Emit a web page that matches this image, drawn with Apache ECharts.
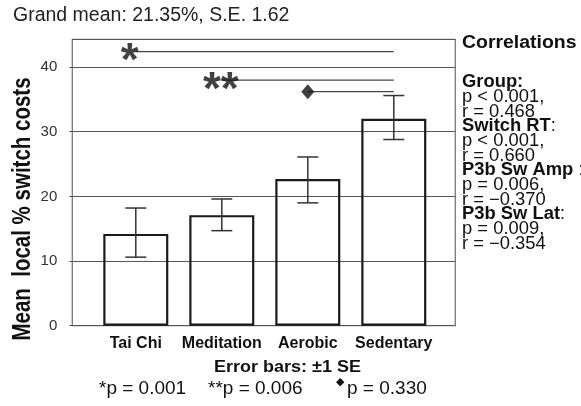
<!DOCTYPE html>
<html>
<head>
<meta charset="utf-8">
<script src="https://cdn.jsdelivr.net/npm/echarts@6/dist/echarts.min.js"></script>
<style>html,body{margin:0;padding:0;background:#fff;}#c{width:581px;height:406px;}</style>
</head>
<body>
<div id="c"></div>
<script>
// ---- data ----
const categories = ['Tai Chi', 'Meditation', 'Aerobic', 'Sedentary'];
const means   = [14.2, 17.1, 22.7, 32.0];
const seUpper = [18.2, 19.6, 26.1, 35.6];
const seLower = [10.6, 14.7, 19.0, 28.8];
const yMin = 0, yMax = 44.3, yStep = 10;
const sigFrom  = ['Tai Chi', 'Meditation', 'Aerobic'];
const sigTo    = 'Sedentary';
const sigLevel = [42.4, 38.0, 36.2];
const sigMarks = ['*', '**', 'diamond'];
const titleText = 'Grand mean: 21.35%, S.E. 1.62';
const yTitle = 'Mean  local % switch costs';
const corrLines = [
  ['b', 'Group:'], ['n', 'p < 0.001,'], ['n', 'r = 0.468'],
  ['b', 'Switch RT', ':'], ['n', 'p < 0.001,'], ['n', 'r = 0.660'],
  ['b', 'P3b Sw Amp', ' :'], ['n', 'p = 0.006,'], ['n', 'r = \u22120.370'],
  ['b', 'P3b Sw Lat', ':'], ['n', 'p = 0.009,'], ['n', 'r = \u22120.354']
];
const pLegend = ['*p = 0.001', '**p = 0.006', 'p = 0.330'];

const FONT = '"Liberation Sans", Arial, sans-serif';
const chart = echarts.init(document.getElementById('c'), null, {renderer: 'canvas'});

const series = [];
series.push({
  type: 'bar', xAxisIndex: 1, yAxisIndex: 1, barWidth: 65,
  data: means,
  itemStyle: {color: 'rgba(0,0,0,0)', borderColor: '#1a1a1a', borderWidth: 2.2},
  silent: true, z: 3
});
series.push({
  type: 'custom', xAxisIndex: 1, yAxisIndex: 1, silent: true, z: 4,
  data: categories.map((c, i) => [i, seLower[i], seUpper[i]]),
  encode: {x: 0, y: [1, 2]},
  renderItem: function (params, api) {
    const x = api.value(0);
    const lo = api.coord([x, api.value(1)]);
    const hi = api.coord([x, api.value(2)]);
    const w = 10.5;
    const st = {stroke: '#333', lineWidth: 1.5};
    return {type: 'group', children: [
      {type: 'line', shape: {x1: lo[0], y1: lo[1], x2: hi[0], y2: hi[1]}, style: st},
      {type: 'line', shape: {x1: lo[0] - w, y1: lo[1], x2: lo[0] + w, y2: lo[1]}, style: st},
      {type: 'line', shape: {x1: hi[0] - w, y1: hi[1], x2: hi[0] + w, y2: hi[1]}, style: st}
    ]};
  }
});
sigFrom.forEach((f, i) => {
  series.push({
    type: 'line', xAxisIndex: 1, yAxisIndex: 1, silent: true, symbol: 'none', z: 4,
    data: [[f, sigLevel[i]], [sigTo, sigLevel[i]]],
    lineStyle: {color: '#444', width: 1.2}
  });
  if (sigMarks[i] === 'diamond') {
    series.push({
      type: 'scatter', xAxisIndex: 1, yAxisIndex: 1, silent: true, z: 5,
      symbol: 'diamond', symbolSize: [13, 15],
      data: [[f, sigLevel[i]]], itemStyle: {color: '#111'}
    });
  } else {
    series.push({
      type: 'scatter', xAxisIndex: 1, yAxisIndex: 1, silent: true, z: 5,
      symbolSize: 1, itemStyle: {color: 'rgba(0,0,0,0)'},
      data: [[f, sigLevel[i]]],
      label: {show: true, position: 'inside', formatter: sigMarks[i],
        fontFamily: FONT, fontSize: 46, fontWeight: 'bold', color: '#111',
        offset: [sigMarks[i] === '*' ? -6 : -1, 11]}
    });
  }
});

const graphics = [];
graphics.push({type: 'text', left: 13, top: 6, style: {text: titleText, font: '19.5px ' + FONT, fill: '#222'}});
graphics.push({type: 'text', x: 23, y: 209, rotation: Math.PI / 2, scaleY: 1.3,
  style: {text: yTitle, font: 'bold 20.5px ' + FONT, fill: '#111', align: 'center', verticalAlign: 'middle'}});
graphics.push({type: 'text', x: 462, y: 43.5, scaleX: 1.08,
  style: {text: 'Correlations', font: 'bold 18px ' + FONT, fill: '#111', verticalAlign: 'middle'}});
const corrY = [82, 97.5, 112, 126.5, 141.5, 156, 170.5, 185.5, 200, 214.5, 229.5, 244];
corrLines.forEach((ln, i) => {
  const txt = ln[0] === 'b' ? '{b|' + ln[1] + '}' + (ln[2] ? '{n|' + ln[2] + '}' : '') : '{n|' + ln[1] + '}';
  graphics.push({type: 'text', x: 462, y: corrY[i], scaleX: 1.05,
    style: {text: txt, verticalAlign: 'middle', fill: '#111',
      rich: {b: {font: 'bold 17.5px ' + FONT, fill: '#111'}, n: {font: '17.5px ' + FONT, fill: '#111'}}}});
});
graphics.push({type: 'text', x: 287.5, y: 367, scaleX: 1.06,
  style: {text: 'Error bars: \u00B11 SE', font: 'bold 17px ' + FONT, fill: '#111', align: 'center', verticalAlign: 'middle'}});
graphics.push({type: 'text', x: 99, y: 389, style: {text: pLegend[0], font: '19px ' + FONT, fill: '#111', verticalAlign: 'middle'}});
graphics.push({type: 'text', x: 208, y: 389, style: {text: pLegend[1], font: '19px ' + FONT, fill: '#111', verticalAlign: 'middle'}});
graphics.push({type: 'text', x: 336, y: 382, style: {text: '\u25C6', font: '11px "DejaVu Sans"', fill: '#111', verticalAlign: 'middle'}});
graphics.push({type: 'text', x: 347, y: 389, style: {text: pLegend[2], font: '19px ' + FONT, fill: '#111', verticalAlign: 'middle'}});

chart.setOption({
  animation: false,
  backgroundColor: '#fff',
  grid: [
    {left: 72.3, top: 39.3, width: 383, height: 286.4, show: true, borderColor: '#777', borderWidth: 1.3, containLabel: false},
    {left: 92.8, top: 39.3, width: 344, height: 286.4, containLabel: false}
  ],
  xAxis: [
    {type: 'value', gridIndex: 0, show: false, min: 0, max: 1},
    {type: 'category', gridIndex: 1, data: categories,
      axisLine: {show: false}, axisTick: {show: false}, splitLine: {show: false},
      axisLabel: {margin: 10, fontFamily: FONT, fontSize: 16, fontWeight: 'bold', color: '#111', interval: 0}}
  ],
  yAxis: [
    {type: 'value', gridIndex: 0, min: yMin, max: yMax, interval: yStep,
      axisLine: {show: false},
      axisTick: {show: true, length: 3, lineStyle: {color: '#555'}},
      splitLine: {show: true, lineStyle: {color: '#555', width: 1}},
      axisLabel: {margin: 15, showMaxLabel: false, fontFamily: FONT, fontSize: 15, color: '#333',
        formatter: v => (v % yStep === 0 ? String(v) : '')}},
    {type: 'value', gridIndex: 1, min: yMin, max: yMax, show: false, splitLine: {show: false}}
  ],
  series: series,
  graphic: graphics
});
</script>
</body>
</html>
